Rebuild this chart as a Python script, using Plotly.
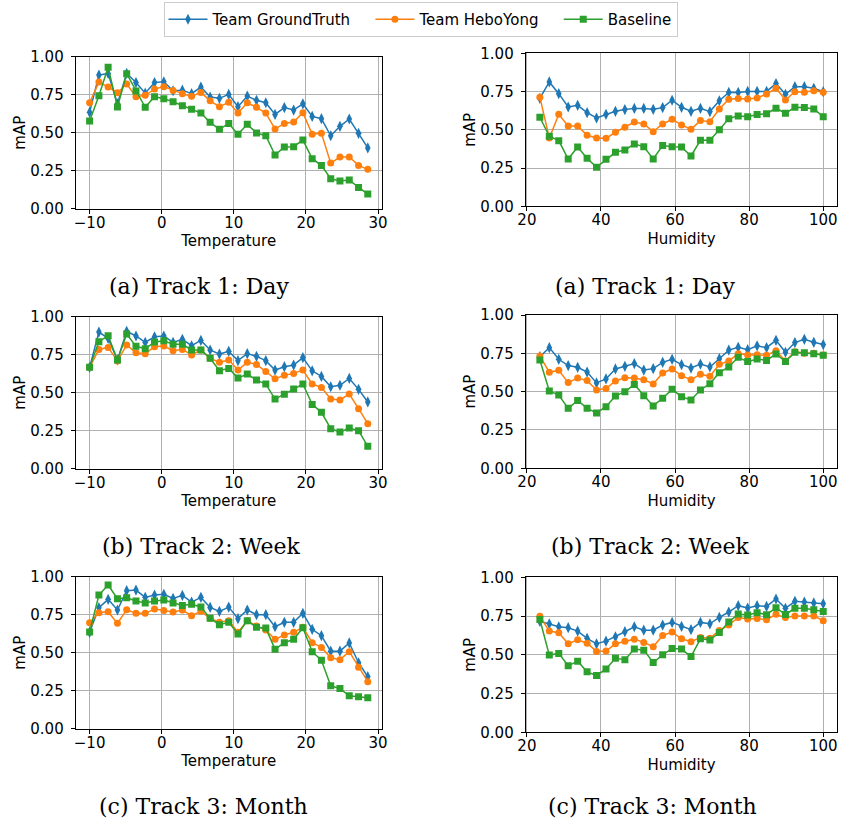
import plotly.graph_objects as go
from plotly.subplots import make_subplots

# ---------------- data ----------------
temperature = [-10.0, -8.71, -7.43, -6.14, -4.86, -3.57, -2.29, -1.0, 0.29, 1.57, 2.86, 4.14, 5.43,
               6.71, 8.0, 9.29, 10.57, 11.86, 13.14, 14.43, 15.71, 17.0, 18.29, 19.57, 20.86, 22.14,
               23.43, 24.71, 26.0, 27.29, 28.57]
humidity = [23.5, 26.05, 28.6, 31.15, 33.7, 36.25, 38.8, 41.35, 43.9, 46.45, 49.0, 51.55, 54.1,
            56.65, 59.2, 61.75, 64.3, 66.85, 69.4, 71.95, 74.5, 77.05, 79.6, 82.15, 84.7, 87.25,
            89.8, 92.35, 94.9, 97.45, 100.0]

series_names = ["Team GroundTruth", "Team HeboYong", "Baseline"]

# Track 1: Day
gt_day_t = [0.634, 0.879, 0.89, 0.69, 0.89, 0.83, 0.76, 0.83, 0.835, 0.776, 0.78, 0.757, 0.80, 0.735, 0.726,
            0.752, 0.671, 0.741, 0.713, 0.697, 0.62, 0.665, 0.649, 0.69, 0.607, 0.592, 0.48, 0.542, 0.59, 0.496, 0.40]
heb_day_t = [0.697, 0.833, 0.80, 0.763, 0.82, 0.737, 0.746, 0.787, 0.803, 0.778, 0.757, 0.739, 0.765, 0.71, 0.671,
             0.70, 0.629, 0.697, 0.667, 0.629, 0.524, 0.561, 0.57, 0.632, 0.49, 0.496, 0.30, 0.34, 0.34, 0.285, 0.259]
base_day_t = [0.577, 0.743, 0.93, 0.669, 0.888, 0.774, 0.667, 0.737, 0.724, 0.704, 0.678, 0.654, 0.629, 0.568, 0.522,
              0.561, 0.489, 0.555, 0.498, 0.48, 0.353, 0.406, 0.408, 0.452, 0.329, 0.285, 0.197, 0.182, 0.189, 0.14, 0.096]
gt_day_h = [0.706, 0.813, 0.736, 0.649, 0.66, 0.612, 0.577, 0.601, 0.621, 0.632, 0.64, 0.64, 0.634, 0.645, 0.693,
            0.647, 0.621, 0.64, 0.619, 0.69, 0.744, 0.744, 0.751, 0.751, 0.751, 0.802, 0.732, 0.782, 0.782, 0.771, 0.749]
heb_day_h = [0.712, 0.447, 0.601, 0.525, 0.525, 0.464, 0.447, 0.444, 0.484, 0.516, 0.551, 0.538, 0.488, 0.538, 0.569,
             0.532, 0.503, 0.56, 0.553, 0.636, 0.70, 0.704, 0.702, 0.708, 0.734, 0.771, 0.695, 0.749, 0.745, 0.756, 0.745]
base_day_h = [0.582, 0.458, 0.429, 0.309, 0.388, 0.314, 0.255, 0.307, 0.353, 0.368, 0.407, 0.39, 0.309, 0.397, 0.39,
              0.388, 0.329, 0.431, 0.431, 0.501, 0.573, 0.591, 0.585, 0.60, 0.605, 0.641, 0.608, 0.647, 0.645, 0.636, 0.586]

# Track 2: Week
gt_week_t = [0.667, 0.899, 0.857, 0.715, 0.904, 0.873, 0.831, 0.868, 0.873, 0.831, 0.851, 0.809, 0.844, 0.781, 0.754,
             0.772, 0.711, 0.757, 0.739, 0.711, 0.649, 0.671, 0.682, 0.731, 0.644, 0.607, 0.539, 0.549, 0.594, 0.522, 0.439]
heb_week_t = [0.667, 0.785, 0.798, 0.708, 0.814, 0.763, 0.757, 0.803, 0.807, 0.776, 0.785, 0.748, 0.781, 0.726, 0.70,
              0.715, 0.649, 0.70, 0.686, 0.64, 0.592, 0.614, 0.627, 0.649, 0.557, 0.535, 0.458, 0.452, 0.491, 0.395, 0.296]
base_week_t = [0.667, 0.836, 0.875, 0.715, 0.886, 0.805, 0.789, 0.833, 0.842, 0.818, 0.818, 0.781, 0.781, 0.726, 0.645,
               0.66, 0.596, 0.623, 0.583, 0.557, 0.458, 0.489, 0.524, 0.557, 0.423, 0.371, 0.263, 0.241, 0.268, 0.25, 0.147]
gt_week_h = [0.728, 0.787, 0.711, 0.67, 0.659, 0.628, 0.557, 0.583, 0.648, 0.665, 0.683, 0.641, 0.65, 0.691, 0.711,
             0.676, 0.654, 0.68, 0.661, 0.715, 0.771, 0.789, 0.774, 0.799, 0.787, 0.835, 0.757, 0.82, 0.841, 0.822, 0.807]
heb_week_h = [0.733, 0.626, 0.639, 0.559, 0.589, 0.572, 0.511, 0.52, 0.57, 0.591, 0.589, 0.578, 0.55, 0.622, 0.648,
              0.604, 0.578, 0.613, 0.60, 0.678, 0.70, 0.748, 0.739, 0.741, 0.737, 0.767, 0.70, 0.761, 0.75, 0.75, 0.739]
base_week_h = [0.707, 0.504, 0.478, 0.391, 0.443, 0.391, 0.361, 0.402, 0.472, 0.50, 0.546, 0.474, 0.407, 0.457, 0.515,
               0.467, 0.446, 0.511, 0.552, 0.624, 0.661, 0.724, 0.696, 0.713, 0.704, 0.746, 0.696, 0.757, 0.754, 0.748, 0.737]

# Track 3: Month
gt_month_t = [0.634, 0.796, 0.851, 0.781, 0.908, 0.912, 0.864, 0.879, 0.884, 0.857, 0.877, 0.833, 0.864, 0.798, 0.772,
              0.80, 0.724, 0.781, 0.75, 0.75, 0.671, 0.70, 0.70, 0.759, 0.654, 0.612, 0.51, 0.51, 0.564, 0.434, 0.342]
heb_month_t = [0.697, 0.763, 0.77, 0.693, 0.783, 0.759, 0.759, 0.787, 0.778, 0.768, 0.781, 0.743, 0.772, 0.726, 0.70,
               0.711, 0.634, 0.711, 0.675, 0.649, 0.588, 0.616, 0.634, 0.667, 0.566, 0.535, 0.467, 0.454, 0.507, 0.404, 0.309]
base_month_t = [0.636, 0.879, 0.945, 0.855, 0.862, 0.84, 0.827, 0.84, 0.846, 0.827, 0.811, 0.818, 0.801, 0.726, 0.684,
                0.70, 0.623, 0.711, 0.667, 0.662, 0.522, 0.566, 0.588, 0.664, 0.507, 0.45, 0.282, 0.264, 0.216, 0.21, 0.204]
gt_month_h = [0.716, 0.70, 0.681, 0.675, 0.653, 0.606, 0.571, 0.588, 0.616, 0.649, 0.681, 0.659, 0.659, 0.692, 0.709,
              0.683, 0.662, 0.709, 0.70, 0.741, 0.776, 0.817, 0.802, 0.817, 0.812, 0.86, 0.80, 0.845, 0.84, 0.835, 0.83]
heb_month_h = [0.748, 0.653, 0.642, 0.571, 0.597, 0.575, 0.522, 0.524, 0.571, 0.588, 0.601, 0.58, 0.552, 0.625, 0.647,
               0.603, 0.584, 0.612, 0.606, 0.657, 0.692, 0.741, 0.731, 0.735, 0.726, 0.761, 0.74, 0.75, 0.75, 0.75, 0.72]
base_month_h = [0.728, 0.498, 0.509, 0.429, 0.459, 0.39, 0.366, 0.409, 0.478, 0.468, 0.537, 0.53, 0.45, 0.50, 0.541,
                0.537, 0.489, 0.603, 0.595, 0.644, 0.711, 0.763, 0.756, 0.772, 0.759, 0.804, 0.76, 0.80, 0.80, 0.79, 0.78]

captions = ["(a) Track 1: Day", "(a) Track 1: Day", "(b) Track 2: Week", "(b) Track 2: Week",
            "(c) Track 3: Month", "(c) Track 3: Month"]
temp_ticks = [-10, 0, 10, 20, 30]
hum_ticks = [20, 40, 60, 80, 100]
y_ticks = [0.0, 0.25, 0.5, 0.75, 1.0]

# ---------------- figure ----------------
W, H = 841, 825
colors = ["#1f77b4", "#ff7f0e", "#2ca02c"]
symbols = ["diamond-tall", "circle", "square"]
msizes = [8, 7, 7]
NB = "\u00a0"
legend_pad = [NB * 3, NB * 3, ""]

panels = [
    (1, 1, temperature, [gt_day_t, heb_day_t, base_day_t], "Temperature"),
    (1, 2, humidity, [gt_day_h, heb_day_h, base_day_h], "Humidity"),
    (2, 1, temperature, [gt_week_t, heb_week_t, base_week_t], "Temperature"),
    (2, 2, humidity, [gt_week_h, heb_week_h, base_week_h], "Humidity"),
    (3, 1, temperature, [gt_month_t, heb_month_t, base_month_t], "Temperature"),
    (3, 2, humidity, [gt_month_h, heb_month_h, base_month_h], "Humidity"),
]

# pixel boxes of plot areas: (left, right, top, bottom)
boxes = {
    (1, 1): (75.7, 381.7, 56.7, 208.7),
    (1, 2): (525.7, 837.4, 53.3, 206.3),
    (2, 1): (75.7, 381.7, 316.7, 468.7),
    (2, 2): (525.7, 837.4, 315.0, 468.3),
    (3, 1): (75.7, 381.7, 576.7, 728.7),
    (3, 2): (525.7, 837.4, 577.3, 732.3),
}
caption_pos = [(199, 286), (645, 286), (201, 546), (650, 546), (203, 806), (652, 806)]

fig = make_subplots(rows=3, cols=2)
font_family = "DejaVu Sans"

for idx, (r, c, xs, ys_list, xtitle) in enumerate(panels):
    for s, ys in enumerate(ys_list):
        fig.add_trace(go.Scatter(
            x=xs, y=ys, mode="lines+markers", name=series_names[s] + legend_pad[s],
            legendgroup=series_names[s], showlegend=(idx == 0),
            line=dict(color=colors[s], width=1.5),
            marker=dict(symbol=symbols[s], size=msizes[s], color=colors[s]),
        ), row=r, col=c)
    L, R, T, B = boxes[(r, c)]
    dmin = min(xs); dmax = max(xs); pad = 0.05 * (dmax - dmin)
    fig.update_xaxes(
        domain=[L / W, R / W], range=[dmin - pad, dmax + pad],
        tickvals=temp_ticks if xtitle == "Temperature" else hum_ticks,
        title=dict(text=xtitle, standoff=3 if c == 1 else 5,
                   font=dict(size=15, family=font_family, color="black")),
        row=r, col=c)
    fig.update_yaxes(
        domain=[1 - B / H, 1 - T / H], range=[0, 1],
        tickvals=y_ticks, tickformat=".2f",
        title=dict(text="mAP", standoff=1, font=dict(size=15, family=font_family, color="black")),
        row=r, col=c)

common = dict(showline=True, mirror=True, linecolor="black", linewidth=1,
              ticks="outside", ticklen=4, tickcolor="black", tickwidth=1,
              showgrid=True, gridcolor="#b0b0b0", gridwidth=0.8, zeroline=False,
              automargin=False,
              tickfont=dict(size=15, family=font_family, color="black"))
fig.update_xaxes(**common, ticklabelstandoff=-4)
fig.update_yaxes(**common, ticklabelstandoff=4)

for (cx, cy), text in zip(caption_pos, captions):
    fig.add_annotation(x=cx / W, y=1 - cy / H, xref="paper", yref="paper",
                       text=text, showarrow=False, xanchor="center", yanchor="middle",
                       font=dict(size=22, family="DejaVu Serif", color="black"))

fig.update_layout(
    width=W, height=H, autosize=False,
    margin=dict(l=0, r=0, t=0, b=0, autoexpand=False),
    paper_bgcolor="white", plot_bgcolor="white",
    font=dict(family=font_family, size=15, color="black"),
    legend=dict(orientation="h", x=420.5 / W, xanchor="center", y=1 - 2 / H, yanchor="top",
                bgcolor="white", bordercolor="#cccccc", borderwidth=1,
                itemwidth=39,
                font=dict(size=15, family=font_family, color="black")),
)

fig.write_html("out.html", config={"displayModeBar": False},
               post_script="document.body.style.margin='0';")
